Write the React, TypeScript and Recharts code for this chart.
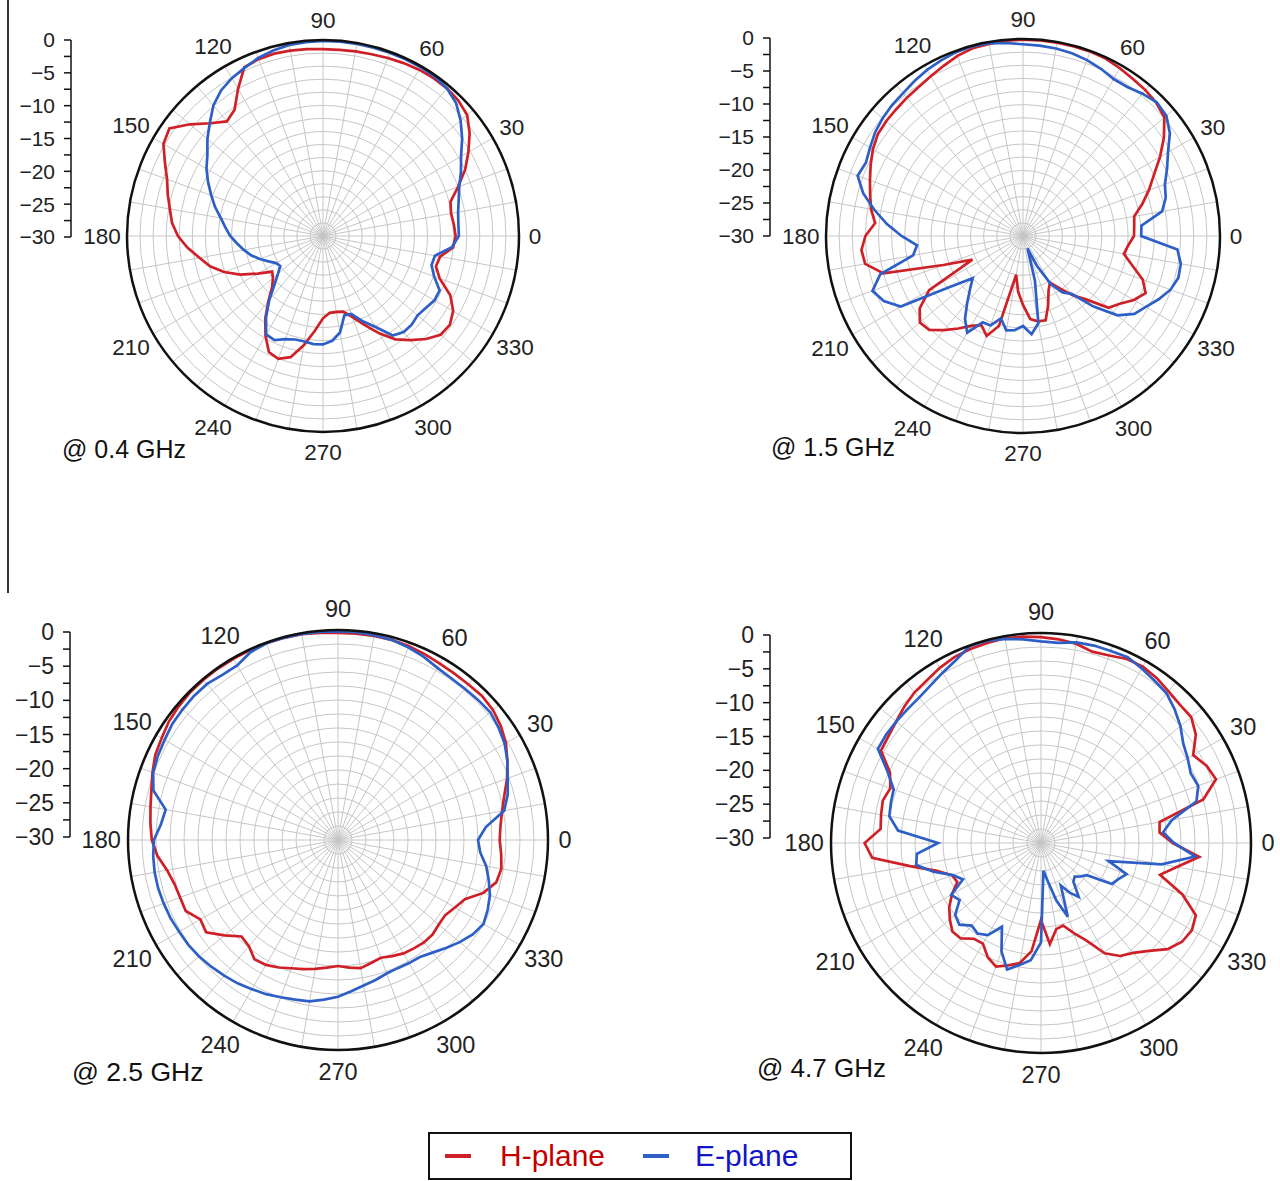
import React from 'react';
import {
  RadarChart,
  Radar,
  PolarGrid,
  PolarAngleAxis,
  PolarRadiusAxis,
  LineChart,
  Line,
  XAxis,
  YAxis,
} from 'recharts';

// measurement angles (deg), one sample every 5 degrees
const ANGLES = [
  0, 5, 10, 15, 20, 25, 30, 35, 40, 45, 50, 55, 60, 65, 70, 75, 80, 85, 90, 95,
  100, 105, 110, 115, 120, 125, 130, 135, 140, 145, 150, 155, 160, 165, 170, 175,
  180, 185, 190, 195, 200, 205, 210, 215, 220, 225, 230, 235, 240, 245, 250, 255,
  260, 265, 270, 275, 280, 285, 290, 295, 300, 305, 310, 315, 320, 325, 330, 335,
  340, 345, 350, 355,
];

// normalized gain (dB)
const H_04 = [
  -9.7, -9.9, -10.1, -9.8, -8.0, -6.0, -4.3, -2.6, -1.2, -0.7,
  -0.5, -0.5, -0.6, -0.8, -1.0, -1.2, -1.3, -1.4, -1.4, -1.3,
  -1.2, -1.1, -1.2, -1.5, -4.0, -6.4, -7.1, -5.6, -3.4, -1.3,
  -1.8, -3.3, -4.6, -5.4, -6.2, -6.8, -7.8, -9.2, -10.8, -12.1,
  -13.9, -16.0, -18.5, -20.5, -20.0, -19.0, -17.0, -14.6, -12.4, -10.4,
  -10.0, -10.8, -13.0, -15.4, -17.4, -18.2, -18.2, -18.0, -16.8, -15.0,
  -12.8, -10.7, -9.2, -7.7, -6.5, -6.3, -7.0, -8.5, -11.0, -12.1,
  -11.8, -10.0,
];
const E_04 = [
  -9.2, -9.2, -9.0, -8.5, -7.8, -6.7, -5.6, -4.0, -2.5, -1.2,
  -0.5, -0.2, -0.15, -0.15, -0.15, -0.15, -0.15, -0.15, -0.15, -0.2,
  -0.3, -0.6, -1.0, -1.6, -2.1, -2.8, -3.9, -5.5, -6.9, -8.4,
  -9.4, -10.6, -11.8, -12.9, -14.1, -15.0, -15.8, -16.8, -17.7, -18.6,
  -19.7, -20.8, -21.7, -22.0, -21.0, -19.5, -17.2, -14.8, -12.6, -12.4,
  -13.2, -13.6, -13.6, -13.4, -13.4, -13.9, -15.0, -17.4, -17.3, -15.6,
  -13.9, -11.4, -10.8, -10.8, -11.1, -10.8, -10.3, -10.3, -11.9, -12.8,
  -12.6, -10.2,
];
const H_15 = [
  -13.1, -13.0, -12.8, -11.2, -9.6, -8.0, -5.9, -3.8, -1.9, -1.3,
  -1.0, -0.8, -0.5, -0.2, -0.1, -0.1, -0.1, -0.1, -0.1, -0.15,
  -0.3, -0.4, -0.8, -1.4, -1.9, -2.3, -2.5, -2.7, -2.8, -3.0,
  -3.6, -4.4, -5.2, -5.9, -6.5, -7.4, -6.0, -5.3, -5.6, -8.0,
  -17.1, -21.5, -13.5, -10.8, -9.5, -9.8, -11.3, -12.8, -14.2, -15.0,
  -13.8, -15.8, -24.0, -21.5, -19.5, -17.3, -16.8, -16.7, -18.8, -20.8,
  -21.8, -20.3, -18.2, -16.3, -13.0, -12.0, -10.5, -9.4, -10.6, -12.8,
  -14.4, -13.9,
];
const E_15 = [
  -12.0, -11.9, -8.5, -7.5, -7.0, -5.8, -4.5, -2.7, -1.5, -1.2,
  -1.7, -2.3, -2.4, -1.9, -1.5, -1.2, -1.0, -0.9, -0.8, -0.5,
  -0.2, -0.1, -0.2, -0.5, -0.8, -1.2, -1.6, -1.8, -2.1, -2.5,
  -3.1, -3.6, -3.2, -4.8, -7.0, -9.2, -11.5, -13.8, -13.0, -7.5,
  -5.6, -6.6, -8.5, -16.5, -20.0, -18.6, -16.8, -14.6, -13.0, -15.5,
  -15.5, -17.0, -15.4, -15.6, -16.3, -15.0, -16.5, -23.0, -28.0, -25.0,
  -21.5, -19.5, -18.5, -14.8, -11.2, -9.3, -8.4, -7.2, -6.1, -5.5,
  -5.6, -6.4,
];
const H_25 = [
  -6.9, -6.7, -6.2, -5.4, -4.3, -3.3, -2.3, -1.6, -1.1, -0.9,
  -1.0, -1.0, -0.9, -0.7, -0.5, -0.4, -0.4, -0.4, -0.4, -0.3,
  -0.15, -0.1, -0.1, -0.1, -0.1, -0.1, -0.1, -0.15, -0.3, -0.5,
  -0.9, -1.2, -1.8, -2.4, -2.8, -3.1, -3.4, -4.1, -5.2, -5.8,
  -6.0, -6.0, -7.3, -7.0, -8.8, -10.5, -10.2, -9.2, -9.4, -9.9,
  -10.5, -10.9, -11.3, -11.7, -12.0, -11.7, -11.4, -11.8, -12.1, -11.7,
  -11.3, -11.1, -10.9, -10.9, -11.2, -11.3, -10.7, -10.0, -7.9, -6.6,
  -6.3, -6.6,
];
const E_25 = [
  -10.0, -8.8, -5.9, -4.9, -4.2, -3.3, -2.5, -2.0, -1.6, -1.7,
  -1.8, -1.8, -1.6, -1.1, -0.7, -0.4, -0.3, -0.2, -0.2, -0.15,
  -0.1, -0.1, -0.1, -0.4, -1.2, -1.2, -0.9, -0.9, -1.0, -1.1,
  -1.4, -1.6, -1.9, -2.7, -5.0, -4.6, -3.7, -3.5, -3.4, -3.4,
  -3.5, -3.6, -3.8, -3.9, -4.1, -4.4, -4.7, -5.0, -5.4, -5.7,
  -6.1, -6.4, -6.6, -7.1, -7.6, -8.3, -8.9, -9.3, -9.7, -9.8,
  -9.7, -9.6, -9.0, -8.2, -7.3, -6.5, -6.0, -6.4, -6.9, -7.7,
  -8.5, -9.6,
];
const H_47 = [
  -11.2, -13.0, -12.8, -6.0, -3.4, -3.9, -4.9, -3.0, -2.0, -2.0,
  -1.7, -1.2, -0.9, -1.0, -1.5, -1.7, -1.1, -0.8, -0.6, -0.4,
  -0.3, -0.4, -0.5, -0.7, -1.1, -1.6, -1.9, -2.4, -3.0, -3.4,
  -3.6, -6.2, -7.1, -6.6, -6.8, -7.0, -4.8, -5.8, -11.0, -14.6,
  -16.5, -16.8, -15.3, -14.0, -13.0, -12.1, -12.2, -13.3, -13.4, -12.0,
  -11.2, -11.9, -12.6, -14.5, -19.0, -15.5, -17.5, -17.8, -16.3, -14.6,
  -11.8, -10.3, -9.5, -8.2, -6.4, -5.4, -5.1, -5.6, -8.5, -12.4,
  -10.3, -7.3,
];
const E_47 = [
  -11.0, -12.5, -11.0, -7.0, -6.1, -6.4, -5.8, -5.2, -4.0, -3.0,
  -2.1, -1.7, -1.2, -0.7, -0.8, -0.8, -0.9, -1.3, -1.2, -0.8,
  -0.4, -0.1, -0.1, -1.2, -1.9, -2.5, -2.9, -3.0, -3.0, -3.0,
  -3.1, -5.8, -7.6, -7.8, -8.0, -9.5, -15.3, -12.2, -11.9, -14.1,
  -16.6, -17.7, -15.2, -15.8, -14.0, -13.5, -14.6, -14.2, -14.8, -16.8,
  -13.5, -11.3, -12.3, -13.2, -15.8, -26.0, -24.5, -21.5, -18.8, -23.3,
  -21.8, -20.6, -22.8, -23.2, -22.6, -22.0, -18.3, -17.8, -17.0, -20.0,
  -12.5, -7.9,
];

// grid spokes every 10 deg, rings every 2 dB, side scale every 2.5 dB
const SPOKES = [
  0, 10, 20, 30, 40, 50, 60, 70, 80, 90, 100, 110, 120, 130, 140, 150, 160, 170,
  180, 190, 200, 210, 220, 230, 240, 250, 260, 270, 280, 290, 300, 310, 320, 330,
  340, 350,
];
const RINGS = [-30, -28, -26, -24, -22, -20, -18, -16, -14, -12, -10, -8, -6, -4, -2, 0];
const SCALE_TICKS = [0, -2.5, -5, -7.5, -10, -12.5, -15, -17.5, -20, -22.5, -25, -27.5, -30];

const FONT = '"Liberation Sans", Arial, Helvetica, sans-serif';
const RED = '#d02027';
const BLUE = '#2d5fc6';
const PAD = 50;
const TICK_SIZE = 8;

const panels = [
  { id: 'p04', title: '@ 0.4 GHz', h: H_04, e: E_04, cx: 323, cy: 236, r: 196, axisX: 71, sTop: 40, sBot: 237, sfs: 21, tx: 62, ty: 449, fs: 22.5, tfs: 25 },
  { id: 'p15', title: '@ 1.5 GHz', h: H_15, e: E_15, cx: 1023, cy: 236, r: 197, axisX: 770, sTop: 38, sBot: 236, sfs: 21, tx: 771, ty: 447, fs: 22.5, tfs: 25 },
  { id: 'p25', title: '@ 2.5 GHz', h: H_25, e: E_25, cx: 338, cy: 840, r: 210, axisX: 70, sTop: 632, sBot: 837, sfs: 23, tx: 72, ty: 1072, fs: 23.5, tfs: 26.5 },
  { id: 'p47', title: '@ 4.7 GHz', h: H_47, e: E_47, cx: 1041, cy: 843, r: 210, axisX: 770, sTop: 635, sBot: 838, sfs: 23, tx: 757, ty: 1068, fs: 23.5, tfs: 26 },
];

// angle labels sit a little further out where the text is wide
const makeAngleTick = (fontSize: number, r: number) => (props: any) => {
  const { x, y, payload } = props;
  const v = Number(payload.value);
  if (v % 30 !== 0 || v >= 360) return <g />;
  const label = String(v);
  const a = (v * Math.PI) / 180;
  const k = r / 196;
  const d = k * (16 + 4 * Math.abs(Math.sin(a)) + 4.5 * Math.abs(Math.cos(a)) * (label.length - 1));
  const push = d - TICK_SIZE;
  return (
    <text
      x={x + Math.cos(a) * push}
      y={y - Math.sin(a) * push + 0.36 * fontSize}
      textAnchor="middle"
      fontSize={fontSize}
      fontFamily={FONT}
      fill="#222"
    >
      {label}
    </text>
  );
};

const dbLabel = (v: number) => {
  if (v % 5 !== 0) return '';
  return v === 0 ? '0' : '\u2212' + Math.abs(v);
};

const scaleRows = SCALE_TICKS.map((v) => ({ k: v, v }));

const Pattern = ({ p }: { p: (typeof panels)[number] }) => {
  const size = 2 * (p.r + PAD);
  const rows = ANGLES.map((a, i) => ({ angle: a, h: p.h[i], e: p.e[i] }));
  return (
    <>
      <div style={{ position: 'absolute', left: p.cx - p.r - PAD, top: p.cy - p.r - PAD }}>
        <RadarChart
          width={size}
          height={size}
          data={rows}
          cx={p.r + PAD}
          cy={p.r + PAD}
          outerRadius={p.r}
          startAngle={0}
          endAngle={360}
          margin={{ top: 0, right: 0, bottom: 0, left: 0 }}
        >
          <PolarGrid gridType="circle" stroke="#c6c6c6" strokeWidth={1} />
          <PolarAngleAxis
            dataKey="angle"
            type="number"
            domain={[0, 360]}
            ticks={SPOKES}
            tickCount={37}
            tickSize={TICK_SIZE}
            tickLine={false}
            axisLineType="circle"
            axisLine={{ stroke: '#111', strokeWidth: 2.5 }}
            tick={makeAngleTick(p.fs, p.r)}
          />
          <PolarRadiusAxis
            type="number"
            domain={[-30, 0]}
            ticks={RINGS}
            tickCount={16}
            tick={false}
            axisLine={false}
          />
          <Radar
            name="H-plane"
            dataKey="h"
            stroke={RED}
            strokeWidth={2.7}
            fill="none"
            fillOpacity={0}
            dot={false}
            isAnimationActive={false}
          />
          <Radar
            name="E-plane"
            dataKey="e"
            stroke={BLUE}
            strokeWidth={2.7}
            fill="none"
            fillOpacity={0}
            dot={false}
            isAnimationActive={false}
          />
        </RadarChart>
      </div>
      <div style={{ position: 'absolute', left: p.axisX - 90, top: p.sTop - 15 }}>
        <LineChart
          width={140}
          height={p.sBot - p.sTop + 30}
          data={scaleRows}
          margin={{ top: 15, right: 10, bottom: 15, left: 0 }}
        >
          <XAxis dataKey="k" hide />
          <YAxis
            type="number"
            dataKey="v"
            domain={[-30, 0]}
            ticks={SCALE_TICKS}
            interval={0}
            width={90}
            tickSize={7}
            tickMargin={9}
            tickFormatter={dbLabel}
            axisLine={{ stroke: '#111', strokeWidth: 1.5 }}
            tickLine={{ stroke: '#111', strokeWidth: 1.5 }}
            tick={{ fill: '#222', fontSize: p.sfs, fontFamily: FONT }}
          />
          <Line dataKey="v" stroke="none" dot={false} activeDot={false} isAnimationActive={false} />
        </LineChart>
      </div>
      <div
        style={{
          position: 'absolute',
          left: p.tx,
          top: p.ty - p.tfs / 2,
          fontSize: p.tfs,
          lineHeight: 1,
          fontFamily: FONT,
          color: '#111',
          whiteSpace: 'nowrap',
        }}
      >
        {p.title}
      </div>
    </>
  );
};

export default function App() {
  return (
    <div
      style={{
        position: 'absolute',
        left: 0,
        top: 0,
        width: 1280,
        height: 1181,
        background: '#fff',
        overflow: 'hidden',
        fontFamily: FONT,
      }}
    >
      <div style={{ position: 'absolute', left: 7, top: 0, width: 1.5, height: 593, background: '#333' }} />
      {panels.map((p) => (
        <Pattern key={p.id} p={p} />
      ))}
      <div
        style={{
          position: 'absolute',
          left: 428,
          top: 1132,
          width: 424,
          height: 48,
          boxSizing: 'border-box',
          border: '2.5px solid #111',
          fontSize: 30,
          lineHeight: 1,
        }}
      >
        <div style={{ position: 'absolute', left: 15, top: 20, width: 26, height: 4, background: RED }} />
        <div style={{ position: 'absolute', left: 70, top: 7, color: '#c40000' }}>H-plane</div>
        <div style={{ position: 'absolute', left: 213, top: 20, width: 26, height: 4, background: BLUE }} />
        <div style={{ position: 'absolute', left: 265, top: 7, color: '#1414c8' }}>E-plane</div>
      </div>
    </div>
  );
}
